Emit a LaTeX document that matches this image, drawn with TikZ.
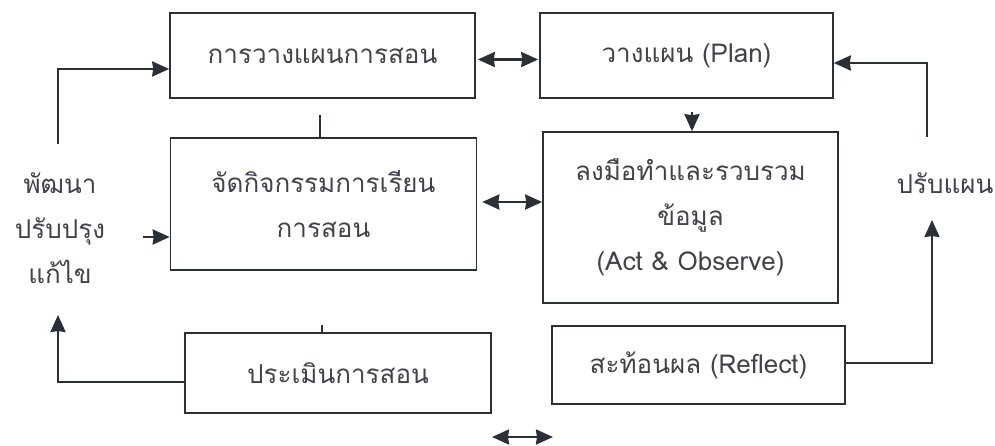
\documentclass[tikz,border=0pt]{standalone}
\usepackage{fontspec}
\newfontfamily\thaifont[Script=Thai]{Loma}
\usetikzlibrary{arrows.meta}
\definecolor{ink}{HTML}{2B2F36}
\begin{document}
\begin{tikzpicture}[x=1pt,y=-1pt,
  box/.style={draw=ink,line width=1.6pt,rectangle,inner sep=0pt,align=center,font=\thaifont\fontsize{26}{45}\selectfont,text=ink!90},
  lbl/.style={align=center,inner sep=0pt,font=\thaifont\fontsize{26}{45}\selectfont,text=ink!90},
  tip/.style={Stealth[length=17pt,width=15pt,inset=1pt]},
  conn/.style={draw=ink,line width=2.4pt,-{Stealth[length=17pt,width=15pt,inset=1pt]}},
  dconn/.style={draw=ink,line width=2.4pt,{Stealth[length=17pt,width=15pt,inset=1pt]}-{Stealth[length=17pt,width=15pt,inset=1pt]}},
  plain/.style={draw=ink,line width=1.8pt}]
\useasboundingbox (0,0) rectangle (995,445);
\node[box,minimum width=305pt,minimum height=85pt] (b1) at (322.5,55.5) {การวางแผนการสอน};
\node[box,minimum width=293pt,minimum height=85pt] (b2) at (686.5,55.5) {วางแผน (Plan)};
\node[box,minimum width=306pt,minimum height=132pt] (b3) at (323.5,204) {จัดกิจกรรมการเรียน\\การสอน};
\node[box,minimum width=295pt,minimum height=171pt] (b4) at (690.5,217.5) {ลงมือทำและรวบรวม\\ข้อมูล\\(Act \& Observe)};
\node[box,minimum width=306pt,minimum height=80pt] (ev) at (338,373) {ประเมินการสอน};
\node[box,minimum width=293pt,minimum height=78pt] (rf) at (698.5,365) {สะท้อนผล (Reflect)};
\node[lbl] (dev) at (60,228) {พัฒนา\\ปรับปรุง\\แก้ไข};
\node[lbl] (adj) at (945,183) {ปรับแผน};
% connectors
\draw[dconn,shorten <=2pt,shorten >=1pt] ([yshift=-4pt]b1.east) -- ([yshift=-4pt]b2.west);
\draw[dconn,shorten <=5pt] ([yshift=2pt]b3.east) -- ([yshift=2pt]b3.east -| b4.west);
\coordinate (pd) at (692,112);
\draw[conn] (pd) -- (pd |- b4.north);
\coordinate (t1) at (320,115);
\draw[plain] (t1) -- (t1 |- b3.north);
\coordinate (t2) at (322,325);
\draw[plain] (t2) -- (t2 |- ev.north);
\coordinate (lc) at (58,382);
\coordinate (lt) at (58,315);
\draw[conn] ([yshift=-9pt]ev.west) -- (lc) -- (lt);
\coordinate (lb) at (58,144);
\coordinate (lu) at (58,69);
\draw[conn] (lb) -- (lu) -- (lu -| b1.west);
\coordinate (ls) at (143,237);
\draw[conn] (ls) -- (ls -| b3.west);
\coordinate (rc) at (932,363);
\coordinate (rt) at (932,220);
\draw[conn] ([yshift=2pt]rf.east) -- (rc) -- (rt);
\coordinate (ub) at (927,137);
\coordinate (uc) at (927,63);
\draw[conn] (ub) -- (uc) -- (uc -| b2.east);
\coordinate (sa) at (492,437);
\coordinate (sb) at (553,437);
\draw[dconn] (sa) -- (sb);
\end{tikzpicture}
\end{document}
